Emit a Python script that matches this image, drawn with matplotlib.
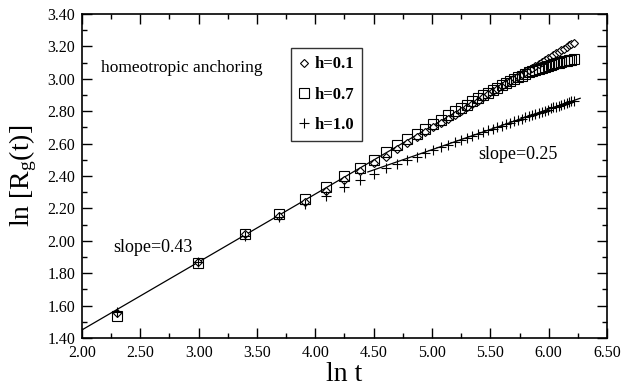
import matplotlib
matplotlib.use("Agg")
import matplotlib.pyplot as plt
from matplotlib.ticker import MultipleLocator, FormatStrFormatter

plt.rcParams['font.family'] = ['Liberation Serif', 'DejaVu Serif']
plt.rcParams['mathtext.fontset'] = 'custom'
plt.rcParams['mathtext.rm'] = 'Liberation Serif'
plt.rcParams['mathtext.it'] = 'Liberation Serif'

# ln t values (t = 10, 20, ..., 500)
ln_t = [2.303, 2.996, 3.401, 3.689, 3.912, 4.094, 4.248, 4.382, 4.500, 4.605,
        4.700, 4.787, 4.868, 4.942, 5.011, 5.075, 5.136, 5.193, 5.247, 5.298,
        5.347, 5.394, 5.438, 5.481, 5.521, 5.561, 5.598, 5.635, 5.670, 5.704,
        5.737, 5.768, 5.799, 5.829, 5.858, 5.886, 5.914, 5.940, 5.966, 5.991,
        6.016, 6.040, 6.064, 6.087, 6.109, 6.131, 6.153, 6.174, 6.194, 6.215]

h01 = [1.555, 1.870, 2.040, 2.155, 2.240, 2.310, 2.375, 2.433, 2.478, 2.520,
       2.565, 2.603, 2.638, 2.670, 2.700, 2.728, 2.754, 2.779, 2.802, 2.824,
       2.846, 2.866, 2.886, 2.905, 2.922, 2.940, 2.956, 2.972, 2.987, 3.002,
       3.016, 3.030, 3.043, 3.056, 3.068, 3.080, 3.093, 3.104, 3.115, 3.126,
       3.137, 3.147, 3.158, 3.168, 3.178, 3.187, 3.197, 3.206, 3.215, 3.224]

h07 = [1.535, 1.860, 2.045, 2.165, 2.256, 2.330, 2.398, 2.451, 2.499, 2.550,
       2.591, 2.626, 2.659, 2.688, 2.721, 2.746, 2.777, 2.800, 2.820, 2.840,
       2.860, 2.880, 2.898, 2.915, 2.931, 2.946, 2.960, 2.974, 2.987, 2.999,
       3.010, 3.020, 3.030, 3.039, 3.047, 3.055, 3.062, 3.069, 3.075, 3.081,
       3.086, 3.091, 3.096, 3.100, 3.104, 3.108, 3.112, 3.115, 3.119, 3.122]

h10 = [1.560, 1.870, 2.030, 2.147, 2.230, 2.277, 2.334, 2.375, 2.412, 2.447,
       2.474, 2.499, 2.519, 2.540, 2.560, 2.578, 2.594, 2.608, 2.622, 2.635,
       2.647, 2.659, 2.670, 2.681, 2.691, 2.701, 2.710, 2.721, 2.730, 2.738,
       2.747, 2.754, 2.762, 2.770, 2.777, 2.784, 2.791, 2.798, 2.804, 2.810,
       2.817, 2.823, 2.829, 2.834, 2.840, 2.846, 2.851, 2.856, 2.861, 2.866]

# fit lines (endpoints)
fit043_x = [2.00, 6.22]
fit043_y = [1.45, 3.22]
fit025_x = [4.45, 6.27]
fit025_y = [2.425, 2.88]

fig = plt.figure(figsize=(6.21, 3.87), dpi=100)
ax = fig.add_axes([0.132, 0.1266, 0.8455, 0.8372])

ax.plot(fit043_x, fit043_y, color='black', lw=0.9)
ax.plot(fit025_x, fit025_y, color='black', lw=0.9)

ax.plot(ln_t, h01, linestyle='none', marker='D', markersize=4.2, mfc='white',
        mec='black', mew=0.8, label='h=0.1')
ax.plot(ln_t, h07, linestyle='none', marker='s', markersize=6.5, mfc='none',
        mec='black', mew=0.8, label='h=0.7')
ax.plot(ln_t, h10, linestyle='none', marker='+', markersize=6.5,
        color='black', mew=0.8, label='h=1.0')

ax.set_xlim(2.0, 6.5)
ax.set_ylim(1.4, 3.4)
ax.xaxis.set_major_locator(MultipleLocator(0.5))
ax.xaxis.set_minor_locator(MultipleLocator(0.25))
ax.yaxis.set_major_locator(MultipleLocator(0.2))
ax.yaxis.set_minor_locator(MultipleLocator(0.1))
ax.xaxis.set_major_formatter(FormatStrFormatter('%.2f'))
ax.yaxis.set_major_formatter(FormatStrFormatter('%.2f'))
ax.tick_params(which='both', direction='in', top=True, right=True, width=1.0)
ax.tick_params(which='major', length=7, labelsize=11.5, pad=5)
ax.tick_params(which='minor', length=3.5)
for s in ax.spines.values():
    s.set_linewidth(1.2)

ax.set_xlabel('ln t', fontsize=20, labelpad=1)
ax.set_ylabel(r'ln [R$_\mathregular{g}$(t)]', fontsize=20, labelpad=6)

ax.text(0.036, 0.833, 'homeotropic anchoring', transform=ax.transAxes,
        fontsize=12.5, va='center', ha='left')
ax.text(2.27, 1.96, 'slope=0.43', fontsize=13, va='center', ha='left')
ax.text(5.40, 2.53, 'slope=0.25', fontsize=13, va='center', ha='left')

leg = ax.legend(loc='upper left', bbox_to_anchor=(0.398, 0.895), frameon=True,
                fancybox=False, edgecolor='black', handlelength=0.6,
                handletextpad=0.3, borderpad=0.5, labelspacing=0.85,
                prop={'weight': 'bold', 'size': 12}, borderaxespad=0)
leg.get_frame().set_linewidth(1.0)

fig.savefig('out.png', dpi=100)
